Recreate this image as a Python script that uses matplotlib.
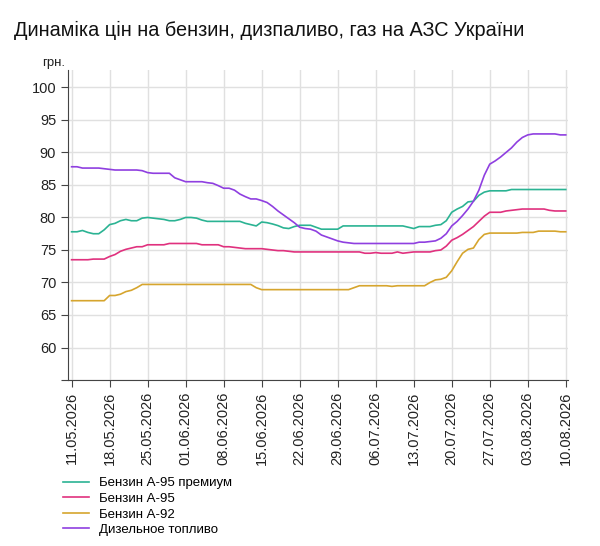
import matplotlib
matplotlib.use("Agg")
import matplotlib.pyplot as plt
import pandas as pd

plt.rcParams['font.family'] = ['Liberation Sans', 'DejaVu Sans']

dates = pd.date_range('2026-05-11', '2026-08-10', freq='D')

premium = [77.8, 77.8, 78.0, 77.7, 77.5, 77.5, 78.1, 78.9, 79.1, 79.5,
           79.7, 79.5, 79.5, 79.9, 80.0, 79.9, 79.8, 79.7, 79.5, 79.5,
           79.7, 80.0, 80.0, 79.9, 79.6, 79.4, 79.4, 79.4, 79.4, 79.4,
           79.4, 79.4, 79.1, 78.9, 78.7, 79.3, 79.2, 79.0, 78.75, 78.4,
           78.3, 78.6, 78.8, 78.8, 78.8, 78.5, 78.2, 78.2, 78.2, 78.2,
           78.7, 78.7, 78.7, 78.7, 78.7, 78.7, 78.7, 78.7, 78.7, 78.7,
           78.7, 78.7, 78.5, 78.3, 78.6, 78.6, 78.6, 78.8, 78.9, 79.5,
           80.8, 81.3, 81.7, 82.4, 82.5, 83.4, 83.9, 84.1, 84.1, 84.1,
           84.1, 84.3, 84.3, 84.3, 84.3, 84.3, 84.3, 84.3, 84.3, 84.3,
           84.3, 84.3]

a95 = [73.5, 73.5, 73.5, 73.5, 73.6, 73.6, 73.6, 74.0, 74.3, 74.8,
       75.1, 75.3, 75.5, 75.5, 75.8, 75.8, 75.8, 75.8, 76.0, 76.0,
       76.0, 76.0, 76.0, 76.0, 75.8, 75.8, 75.8, 75.8, 75.5, 75.5,
       75.4, 75.3, 75.2, 75.2, 75.2, 75.2, 75.1, 75.0, 74.9, 74.9,
       74.8, 74.7, 74.7, 74.7, 74.7, 74.7, 74.7, 74.7, 74.7, 74.7,
       74.7, 74.7, 74.7, 74.7, 74.5, 74.5, 74.6, 74.5, 74.5, 74.5,
       74.7, 74.5, 74.6, 74.7, 74.7, 74.7, 74.7, 74.9, 75.0, 75.6,
       76.5, 76.9, 77.4, 78.0, 78.6, 79.4, 80.2, 80.8, 80.8, 80.8,
       81.0, 81.1, 81.2, 81.3, 81.3, 81.3, 81.3, 81.3, 81.1, 81.0,
       81.0, 81.0]

a92 = [67.2, 67.2, 67.2, 67.2, 67.2, 67.2, 67.2, 68.0, 68.0, 68.2,
       68.6, 68.8, 69.2, 69.7, 69.7, 69.7, 69.7, 69.7, 69.7, 69.7,
       69.7, 69.7, 69.7, 69.7, 69.7, 69.7, 69.7, 69.7, 69.7, 69.7,
       69.7, 69.7, 69.7, 69.7, 69.2, 68.9, 68.9, 68.9, 68.9, 68.9,
       68.9, 68.9, 68.9, 68.9, 68.9, 68.9, 68.9, 68.9, 68.9, 68.9,
       68.9, 68.9, 69.2, 69.5, 69.5, 69.5, 69.5, 69.5, 69.5, 69.4,
       69.5, 69.5, 69.5, 69.5, 69.5, 69.5, 70.0, 70.4, 70.5, 70.8,
       71.8, 73.2, 74.5, 75.1, 75.3, 76.6, 77.4, 77.6, 77.6, 77.6,
       77.6, 77.6, 77.6, 77.7, 77.7, 77.7, 77.9, 77.9, 77.9, 77.9,
       77.8, 77.8]

diesel = [87.8, 87.8, 87.6, 87.6, 87.6, 87.6, 87.5, 87.4, 87.3, 87.3,
          87.3, 87.3, 87.3, 87.2, 86.9, 86.8, 86.8, 86.8, 86.8, 86.1,
          85.8, 85.5, 85.5, 85.5, 85.5, 85.35, 85.25, 84.9, 84.5, 84.5,
          84.2, 83.6, 83.2, 82.85, 82.85, 82.6, 82.3, 81.7, 81.0, 80.4,
          79.8, 79.2, 78.5, 78.3, 78.2, 77.9, 77.3, 77.0, 76.7, 76.4,
          76.2, 76.1, 76.0, 76.0, 76.0, 76.0, 76.0, 76.0, 76.0, 76.0,
          76.0, 76.0, 76.0, 76.0, 76.2, 76.2, 76.3, 76.4, 76.8, 77.5,
          78.7, 79.4, 80.3, 81.3, 82.5, 84.2, 86.5, 88.2, 88.7, 89.3,
          90.0, 90.7, 91.6, 92.3, 92.7, 92.85, 92.85, 92.85, 92.85, 92.85,
          92.7, 92.7]

names = ['Бензин А-95 премиум', 'Бензин А-95', 'Бензин А-92', 'Дизельное топливо']
colors = ['#2bb393', '#e0317e', '#d6a52e', '#8f3fe0']

fig = plt.figure(figsize=(6, 5.46), dpi=100)
ax = fig.add_axes([0.1133, 0.304, 0.8334, 0.568])

lines = []
for vals, name, c in zip([premium, a95, a92, diesel], names, colors):
    ln, = ax.plot(dates, vals, color=c, lw=1.2, label=name)
    lines.append(ln)

ax.set_ylim(55, 102.7)
ax.set_yticks(range(55, 101, 5))
ax.set_yticklabels([''] + [str(v) for v in range(60, 101, 5)])
ax.set_xlim(dates[0] - pd.Timedelta(hours=16), dates[-1] + pd.Timedelta(hours=10))
ticks = dates[::7]
ax.set_xticks(ticks)
ax.set_xticklabels([d.strftime('%d.%m.%Y') for d in ticks], rotation=90)

ax.grid(True, color='#e0e0e0', lw=1)
ax.set_axisbelow(True)
for s in ['top', 'right']:
    ax.spines[s].set_visible(False)
for s in ['left', 'bottom']:
    ax.spines[s].set_color('#444444')
ax.tick_params(axis='both', labelsize=10.5, colors='#222222', length=5, width=0.8)
ax.tick_params(axis='both', color='#444444')

fig.text(0.023, 0.934, 'Динаміка цін на бензин, дизпаливо, газ на АЗС України',
         fontsize=14.3, color='#111111')
fig.text(0.071, 0.879, 'грн.', fontsize=9.5, color='#222222')

fig.legend(handles=lines, labels=names, loc='upper left',
           bbox_to_anchor=(0.105, 0.126), frameon=False, fontsize=9.5,
           handlelength=2.0, handletextpad=0.7, labelspacing=0.25,
           borderaxespad=0, borderpad=0)

fig.savefig('out.png', dpi=100)
